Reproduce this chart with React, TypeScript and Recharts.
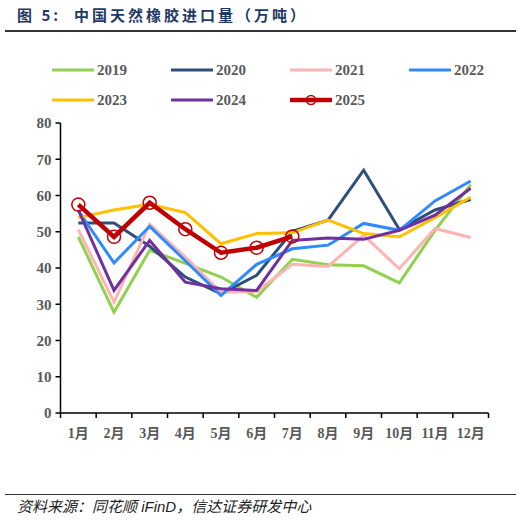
import React from "react";
import { LineChart, Line, XAxis, YAxis } from "recharts";

const months = ["1月", "2月", "3月", "4月", "5月", "6月", "7月", "8月", "9月", "10月", "11月", "12月"];
const yTicks = [0, 10, 20, 30, 40, 50, 60, 70, 80];

const s2019 = [48.6, 27.8, 44.9, 41.3, 37.5, 31.9, 42.4, 40.9, 40.6, 35.9, 50.4, 63.0];
const s2020 = [52.4, 52.4, 46.0, 37.5, 32.9, 38.0, 50.1, 53.2, 67.0, 50.6, 56.0, 58.9];
const s2021 = [50.6, 30.6, 52.1, 43.0, 33.3, 33.5, 41.0, 40.4, 49.0, 39.8, 50.9, 48.4];
const s2022 = [55.8, 41.4, 51.5, 42.0, 32.4, 41.0, 45.3, 46.3, 52.3, 50.4, 58.5, 64.0];
const s2023 = [53.9, 56.0, 57.6, 55.3, 46.7, 49.5, 49.7, 53.2, 49.5, 48.6, 53.9, 59.5];
const s2024 = [56.0, 33.8, 47.6, 36.1, 34.3, 33.8, 47.6, 48.3, 47.9, 50.4, 54.6, 62.0];
const s2025: (number | null)[] = [57.5, 48.6, 58.0, 50.7, 44.2, 45.6, 48.7, null, null, null, null, null];

const seriesNames = ["2019", "2020", "2021", "2022", "2023", "2024", "2025"];
const seriesColors = ["#92D050", "#2F4E7E", "#FFB3B3", "#2E8BFF", "#FFC000", "#7030A0", "#C00000"];
const seriesValues = [s2019, s2020, s2021, s2022, s2023, s2024, s2025];

const data = months.map((m, i) => {
  const row: Record<string, any> = { month: m };
  seriesNames.forEach((n, k) => {
    row["y" + n] = seriesValues[k][i];
  });
  return row;
});

const font = "'Liberation Serif', 'Noto Sans CJK SC', serif";
const gray = "#595959";

const PLOT_LEFT = 60.5;
const PLOT_RIGHT = 488.5;
const HALF_BAND = (PLOT_RIGHT - PLOT_LEFT) / 12 / 2;

function MonthTick(props: any) {
  const { x, y, payload, index } = props;
  const last = index === months.length - 1;
  return (
    <g>
      <line x1={x - HALF_BAND} y1={y} x2={x - HALF_BAND} y2={y + 5} stroke="#000" strokeWidth={1.5} />
      {last && <line x1={x + HALF_BAND} y1={y} x2={x + HALF_BAND} y2={y + 5} stroke="#000" strokeWidth={1.5} />}
      <text x={x} y={y + 25} textAnchor="middle" fill={gray} fontFamily={font} fontWeight={700} fontSize={14}>
        {payload.value}
      </text>
    </g>
  );
}

function LegendItem({ name, color, x, y }: { name: string; color: string; x: number; y: number }) {
  const is2025 = name === "2025";
  return (
    <div style={{ position: "absolute", left: x, top: y - 10, height: 20, display: "flex", alignItems: "center" }}>
      <svg width={42} height={20} style={{ display: "block" }}>
        <line x1={1} y1={10} x2={41} y2={10} stroke={color} strokeWidth={is2025 ? 4.5 : 3} strokeLinecap="round" />
        {is2025 && <circle cx={21} cy={10} r={4.5} fill="none" stroke={color} strokeWidth={1.5} />}
      </svg>
      <span style={{ marginLeft: 3, fontFamily: font, fontWeight: 700, fontSize: 15, color: gray, lineHeight: "20px" }}>{name}</span>
    </div>
  );
}

const legendPos = [
  [52, 70], [171, 70], [290, 70], [409, 70],
  [52, 100], [171, 100], [290, 100],
];

export default function App() {
  return (
    <div style={{ position: "absolute", left: 0, top: 0, width: 521, height: 522, background: "#fff", overflow: "hidden" }}>
      <div style={{ position: "absolute", left: 17, top: 5, fontFamily: "'Noto Sans CJK SC', sans-serif", fontWeight: 700, fontSize: 15, color: "#1F3864", letterSpacing: 3, whiteSpace: "pre", lineHeight: "20px" }}>
        {"图 5:  中国天然橡胶进口量（万吨）"}
      </div>
      <div style={{ position: "absolute", left: 5, top: 30, width: 511, height: 1.5, background: "#333" }} />
      {seriesNames.map((n, k) => (
        <LegendItem key={n} name={n} color={seriesColors[k]} x={legendPos[k][0]} y={legendPos[k][1]} />
      ))}
      <div style={{ position: "absolute", left: 0, top: 0 }}>
        <LineChart width={521} height={522} data={data} margin={{ top: 123, right: 521 - PLOT_RIGHT, bottom: 79, left: PLOT_LEFT - 30 }}>
          <XAxis
            dataKey="month"
            interval={0}
            padding={{ left: HALF_BAND, right: HALF_BAND }}
            axisLine={{ stroke: "#000", strokeWidth: 1.5 }}
            tickLine={false}
            tickSize={0}
            tickMargin={0}
            height={30}
            tick={<MonthTick />}
          />
          <YAxis
            domain={[0, 80]}
            ticks={yTicks}
            interval={0}
            width={30}
            axisLine={{ stroke: "#000", strokeWidth: 1.5 }}
            tickLine={{ stroke: "#000", strokeWidth: 1.5 }}
            tickSize={5}
            tick={{ fill: gray, fontFamily: font, fontWeight: 700, fontSize: 15 }}
            tickMargin={4}
          />
          {seriesNames.map((n, k) => {
            const is2025 = n === "2025";
            return (
              <Line
                key={n}
                type="linear"
                dataKey={"y" + n}
                stroke={seriesColors[k]}
                strokeWidth={is2025 ? 4.5 : 3}
                dot={is2025 ? { r: 6.5, fill: "none", stroke: seriesColors[k], strokeWidth: 1.5 } : false}
                activeDot={false}
                isAnimationActive={false}
                connectNulls={false}
              />
            );
          })}
        </LineChart>
      </div>
      <div style={{ position: "absolute", left: 5, top: 494, width: 511, height: 1, background: "#333" }} />
      <div style={{ position: "absolute", left: 17, top: 497, fontFamily: "'Liberation Sans', 'Noto Sans CJK SC', sans-serif", fontStyle: "italic", fontSize: 15, color: "#222", lineHeight: "20px", whiteSpace: "pre" }}>
        {"资料来源：同花顺 iFinD，信达证券研发中心"}
      </div>
    </div>
  );
}
